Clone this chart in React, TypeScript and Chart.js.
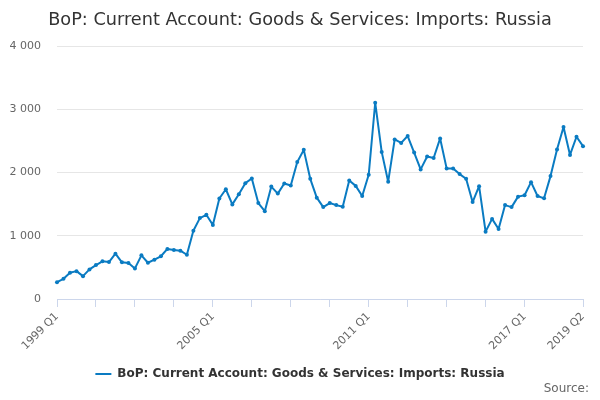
import { useEffect, useRef } from "react";
import Chart from "chart.js/auto";

// quarters 1999 Q1 .. 2019 Q2
const quarters: string[] = [];
for (let y = 1999; y <= 2019; y++) {
  for (let q = 1; q <= 4; q++) {
    if (y === 2019 && q > 2) break;
    quarters.push(`${y} Q${q}`);
  }
}

const imports = [
  266, 319, 415, 441, 362, 468, 537, 596, 585, 718,
  580, 569, 484, 691, 574, 622, 676, 793, 777, 764,
  700, 1081, 1280, 1333, 1170, 1590, 1737, 1497, 1657, 1833,
  1907, 1518, 1390, 1779, 1668, 1827, 1795, 2168, 2360, 1902,
  1604, 1454, 1518, 1486, 1460, 1875, 1790, 1630, 1966, 3106,
  2328, 1856, 2525, 2470, 2579, 2318, 2051, 2254, 2232, 2541,
  2067, 2067, 1977, 1902, 1534, 1785, 1066, 1268, 1108, 1486,
  1454, 1620, 1641, 1849, 1630, 1593, 1945, 2365, 2722, 2280,
  2568, 2419,
];

const tickIndexes = [0, 6, 12, 18, 24, 30, 36, 42, 48, 54, 60, 66, 72, 81];
const labelIndexes = [0, 24, 48, 72, 81];

const seriesName = "BoP: Current Account: Goods & Services: Imports: Russia";
const sourceText = "Source:";
const font = "'DejaVu Sans', sans-serif";
const blue = "#0a7bc2";

// "Source:" credit in the bottom-right corner
const creditPlugin = {
  id: "credit",
  afterDraw(chart: Chart) {
    const c = chart.ctx;
    c.save();
    c.font = `12px ${font}`;
    c.fillStyle = "#666666";
    c.textAlign = "right";
    c.textBaseline = "middle";
    c.fillText(sourceText, chart.width - 11, 389);
    c.restore();
  },
};

export default function App() {
  const chartRef = useRef<HTMLCanvasElement>(null);

  useEffect(() => {
    if (!chartRef.current) return;
    const ctx = chartRef.current.getContext("2d") as CanvasRenderingContext2D;

    const chart = new Chart(ctx, {
      type: "line",
      data: {
        labels: quarters,
        datasets: [
          {
            label: seriesName,
            data: imports,
            borderColor: blue,
            backgroundColor: blue,
            borderWidth: 2,
            borderJoinStyle: "round",
            pointRadius: 2,
            pointBorderWidth: 0,
            tension: 0,
            fill: false,
          },
        ],
      },
      plugins: [creditPlugin],
      options: {
        animation: false,
        responsive: true,
        maintainAspectRatio: false,
        layout: { autoPadding: false, padding: { left: 10, right: 10, top: 0, bottom: 10 } },
        plugins: {
          title: {
            display: true,
            text: seriesName,
            color: "#333333",
            font: { family: font, size: 17.7, weight: "normal" },
            padding: { top: 10, bottom: 15 },
          },
          legend: {
            position: "bottom",
            labels: {
              color: "#333333",
              font: { family: font, size: 12, weight: "bold" },
              usePointStyle: true,
              pointStyleWidth: 16,
              boxHeight: 12,
              padding: 12,
              generateLabels: (ch: Chart) =>
                Chart.defaults.plugins.legend.labels
                  .generateLabels(ch)
                  .map((item) => ({
                    ...item,
                    pointStyle: "line",
                    lineWidth: 2,
                    strokeStyle: blue,
                  })),
            },
          },
          tooltip: { enabled: false },
        },
        scales: {
          x: {
            type: "category",
            offset: false,
            afterBuildTicks: (axis) => {
              axis.ticks = tickIndexes.map((i) => ({ value: i }));
            },
            afterFit: (axis) => {
              axis.paddingLeft = 0;
              axis.paddingRight = 17;
              axis.height = 57;
            },
            ticks: {
              autoSkip: false,
              minRotation: 45,
              maxRotation: 45,
              color: "#666666",
              font: { family: font, size: 11 },
              padding: 3,
              callback: (value) =>
                labelIndexes.includes(Number(value)) ? quarters[Number(value)] : "",
            },
            grid: {
              display: true,
              drawOnChartArea: false,
              drawTicks: true,
              tickLength: 8,
              color: "#ccd6eb",
            },
            border: { display: true, color: "#ccd6eb", width: 1 },
          },
          y: {
            min: 0,
            max: 4000,
            afterFit: (axis) => {
              axis.width = 47;
            },
            ticks: {
              stepSize: 1000,
              color: "#666666",
              font: { family: font, size: 11 },
              padding: 16,
              callback: (value) =>
                Number(value).toString().replace(/\B(?=(\d{3})+(?!\d))/g, " "),
            },
            grid: { color: "#e6e6e6", drawTicks: false },
            border: { display: false },
          },
        },
      },
    });

    return () => {
      chart.destroy();
    };
  }, []);

  return (
    <div style={{ position: "fixed", left: 0, top: 0, width: 600, height: 400 }}>
      <canvas ref={chartRef} />
    </div>
  );
}
